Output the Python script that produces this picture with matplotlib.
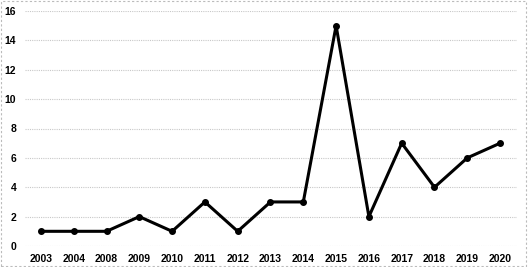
import matplotlib
matplotlib.use("Agg")
import matplotlib.pyplot as plt
from matplotlib.patches import Rectangle

years = ["2003", "2004", "2008", "2009", "2010", "2011", "2012", "2013", "2014",
         "2015", "2016", "2017", "2018", "2019", "2020"]
values = [1, 1, 1, 2, 1, 3, 1, 3, 3, 15, 2, 7, 4, 6, 7]
yticks = [0, 2, 4, 6, 8, 10, 12, 14, 16]

plt.rcParams['font.family'] = ['Liberation Sans', 'DejaVu Sans']
fig = plt.figure(figsize=(5.28, 2.67), dpi=100)
ax = fig.add_axes([24.5/528, 1-246/267, (516.5-24.5)/528, (246-11)/267])
x = list(range(len(years)))
ax.plot(x, values, color="black", lw=2.2, marker="o", ms=4, zorder=3)
ax.set_xlim(-0.5, len(years) - 0.5)
ax.set_ylim(0, 16)
ax.set_yticks(yticks)
ax.set_xticks(x)
ax.set_xticklabels(years)
for t in ax.get_xticklabels() + ax.get_yticklabels():
    t.set_fontweight("bold")
    t.set_fontsize(7.5)
ax.tick_params(length=0, pad=6)
ax.yaxis.grid(True, color="#c8c8c8", ls=(0, (1, 1)), lw=0.8)
for s in ax.spines.values():
    s.set_visible(False)
fig.patches.append(Rectangle((0.002, 0.004), 0.995, 0.992, transform=fig.transFigure,
                             fill=False, ec="#bbbbbb", ls=(0, (2, 2)), lw=0.8))
fig.savefig("out.png", dpi=100)
